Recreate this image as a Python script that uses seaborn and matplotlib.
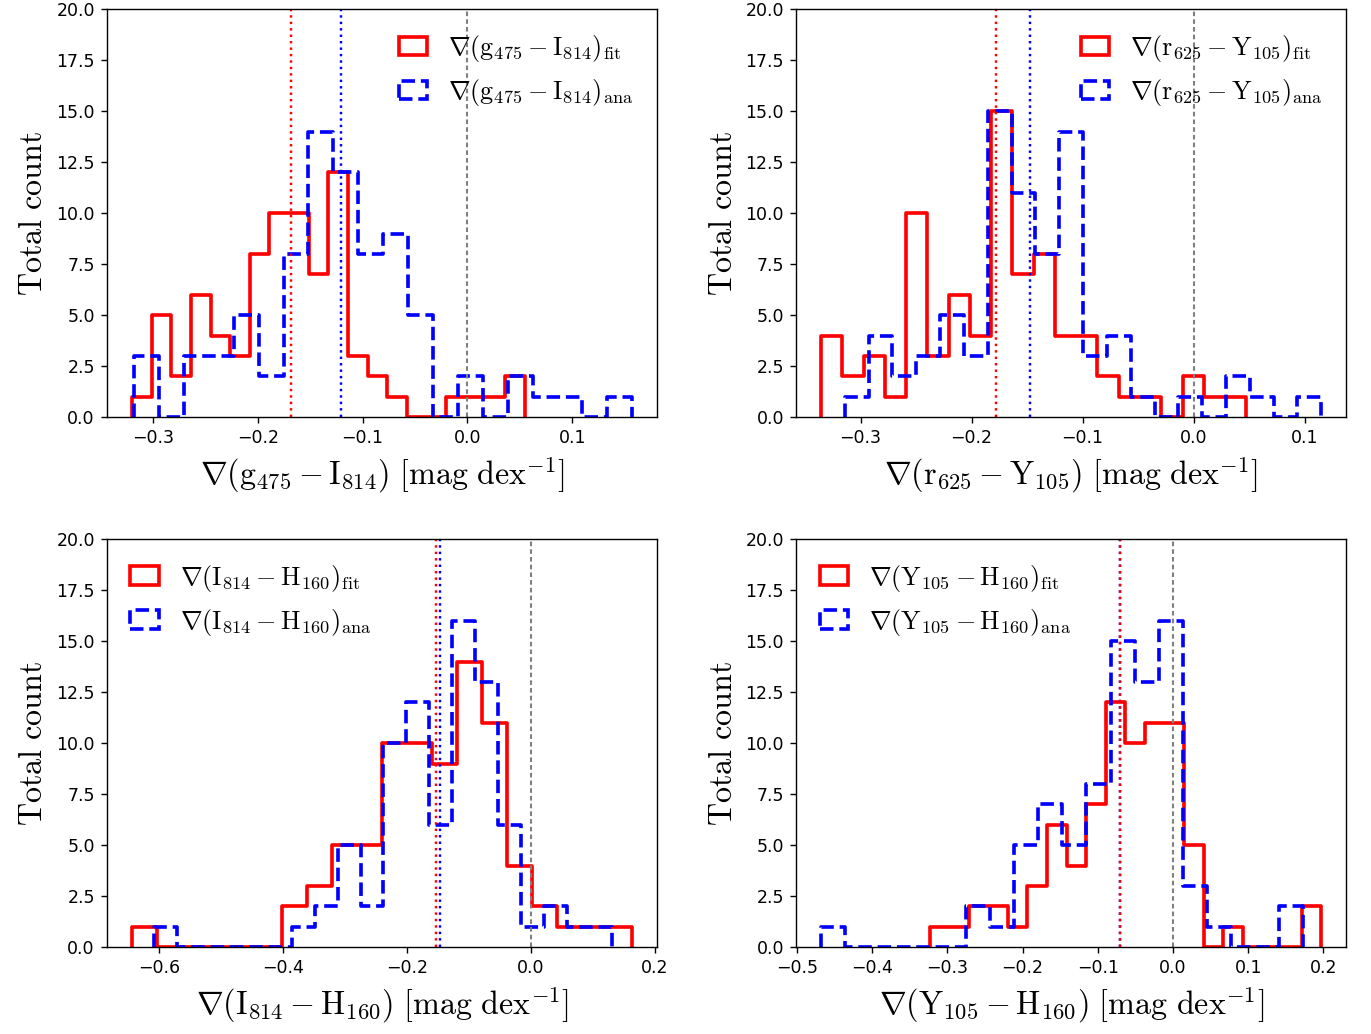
import numpy as np
import pandas as pd
import matplotlib
matplotlib.use("Agg")
import matplotlib.pyplot as plt
from matplotlib.patches import Patch
from matplotlib.ticker import MultipleLocator
import seaborn as sns

plt.rcParams["mathtext.fontset"] = "cm"

# Colour-gradient distributions, 20 equal-width bins per sample.
# Each sample: (lower edge, upper edge) of the binned range and the counts.
gI_fit_range = (-0.3198, 0.0546)
gI_fit_counts = [1, 5, 2, 6, 4, 3, 8, 10, 10, 7, 12, 3, 2, 1, 0, 0, 1, 1, 1, 2]
gI_ana_range = (-0.3177, 0.1569)
gI_ana_counts = [3, 0, 3, 3, 5, 2, 8, 14, 12, 8, 9, 5, 0, 2, 0, 2, 1, 1, 0, 1]
gI_medians = (-0.168, -0.121)

rY_fit_range = (-0.3355, 0.0475)
rY_fit_counts = [4, 2, 3, 1, 10, 3, 6, 4, 15, 7, 8, 4, 4, 2, 1, 1, 0, 2, 1, 1]
rY_ana_range = (-0.3142, 0.1151)
rY_ana_counts = [1, 4, 2, 3, 5, 3, 15, 11, 8, 14, 3, 4, 1, 0, 1, 0, 2, 1, 0, 1]
rY_medians = (-0.178, -0.147)

IH_fit_range = (-0.6439, 0.1636)
IH_fit_counts = [1, 0, 0, 0, 0, 0, 2, 3, 5, 5, 10, 10, 9, 14, 11, 4, 2, 1, 1, 1]
IH_ana_range = (-0.6075, 0.1318)
IH_ana_counts = [1, 0, 0, 0, 0, 0, 1, 2, 5, 2, 10, 12, 6, 16, 13, 6, 1, 2, 1, 1]
IH_medians = (-0.153, -0.147)

YH_fit_range = (-0.3236, 0.1971)
YH_fit_counts = [1, 1, 2, 2, 1, 3, 6, 4, 7, 12, 10, 11, 11, 5, 0, 1, 0, 0, 0, 2]
YH_ana_range = (-0.4676, 0.1734)
YH_ana_counts = [1, 0, 0, 0, 0, 0, 2, 1, 5, 7, 5, 8, 15, 13, 16, 3, 1, 0, 0, 2]
YH_medians = (-0.0698, -0.0702)

colour_names = [
    r"\mathrm{g}_{\mathsf{475}} - \mathrm{I}_{\mathsf{814}}",
    r"\mathrm{r}_{\mathsf{625}} - \mathrm{Y}_{\mathsf{105}}",
    r"\mathrm{I}_{\mathsf{814}} - \mathrm{H}_{\mathsf{160}}",
    r"\mathrm{Y}_{\mathsf{105}} - \mathrm{H}_{\mathsf{160}}",
]
legend_locs = ["upper right", "upper right", "upper left", "upper left"]
x_tick_steps = [0.1, 0.1, 0.2, 0.1]

panels = [
    (gI_fit_range, gI_fit_counts, gI_ana_range, gI_ana_counts, gI_medians),
    (rY_fit_range, rY_fit_counts, rY_ana_range, rY_ana_counts, rY_medians),
    (IH_fit_range, IH_fit_counts, IH_ana_range, IH_ana_counts, IH_medians),
    (YH_fit_range, YH_fit_counts, YH_ana_range, YH_ana_counts, YH_medians),
]


def step_hist(ax, rng, counts, color, ls):
    edges = np.linspace(rng[0], rng[1], len(counts) + 1)
    table = pd.DataFrame({"gradient": 0.5 * (edges[:-1] + edges[1:]),
                          "n": np.asarray(counts, dtype=float)})
    # zero-width end bins let the outline drop to the baseline at both ends
    bins = [edges[0]] + edges.tolist() + [edges[-1]]
    sns.histplot(data=table, x="gradient", weights="n", bins=bins,
                 element="step", fill=False, color=color, linestyle=ls,
                 linewidth=2.1, ax=ax)


fig, axes = plt.subplots(2, 2, figsize=(10.968, 8.272), dpi=125)
fig.subplots_adjust(left=0.078, right=0.982, top=0.991, bottom=0.084,
                    wspace=0.2527, hspace=0.299)

for ax, name, loc, step, (fr, fc, ar, ac, med) in zip(
        axes.flat, colour_names, legend_locs, x_tick_steps, panels):
    step_hist(ax, fr, fc, "red", "-")
    step_hist(ax, ar, ac, "blue", "--")
    ax.axvline(med[1], color="blue", ls=":", lw=1.4)
    ax.axvline(med[0], color="red", ls=":", lw=1.4)
    ax.axvline(0.0, color="gray", ls=(0, (2.2, 1.5)), lw=1.2)
    ax.set_ylim(0, 20)
    ax.xaxis.set_major_locator(MultipleLocator(step))
    ax.set_xlabel(rf"$\nabla({name})\ [\mathrm{{mag\ dex}}^{{-1}}]$",
                  fontsize=18.5)
    ax.set_ylabel(r"$\mathrm{Total\ count}$", fontsize=18.5)
    ax.tick_params(labelsize=10)
    handles = [
        Patch(facecolor="none", edgecolor="red", lw=2.1,
              label=rf"$\nabla({name})_{{\mathrm{{fit}}}}$"),
        Patch(facecolor="none", edgecolor="blue", lw=2.1, ls="--",
              label=rf"$\nabla({name})_{{\mathrm{{ana}}}}$"),
    ]
    ax.legend(handles=handles, loc=loc, frameon=False, fontsize=15,
              handlelength=1.1)

fig.savefig("out.png", dpi=125)
